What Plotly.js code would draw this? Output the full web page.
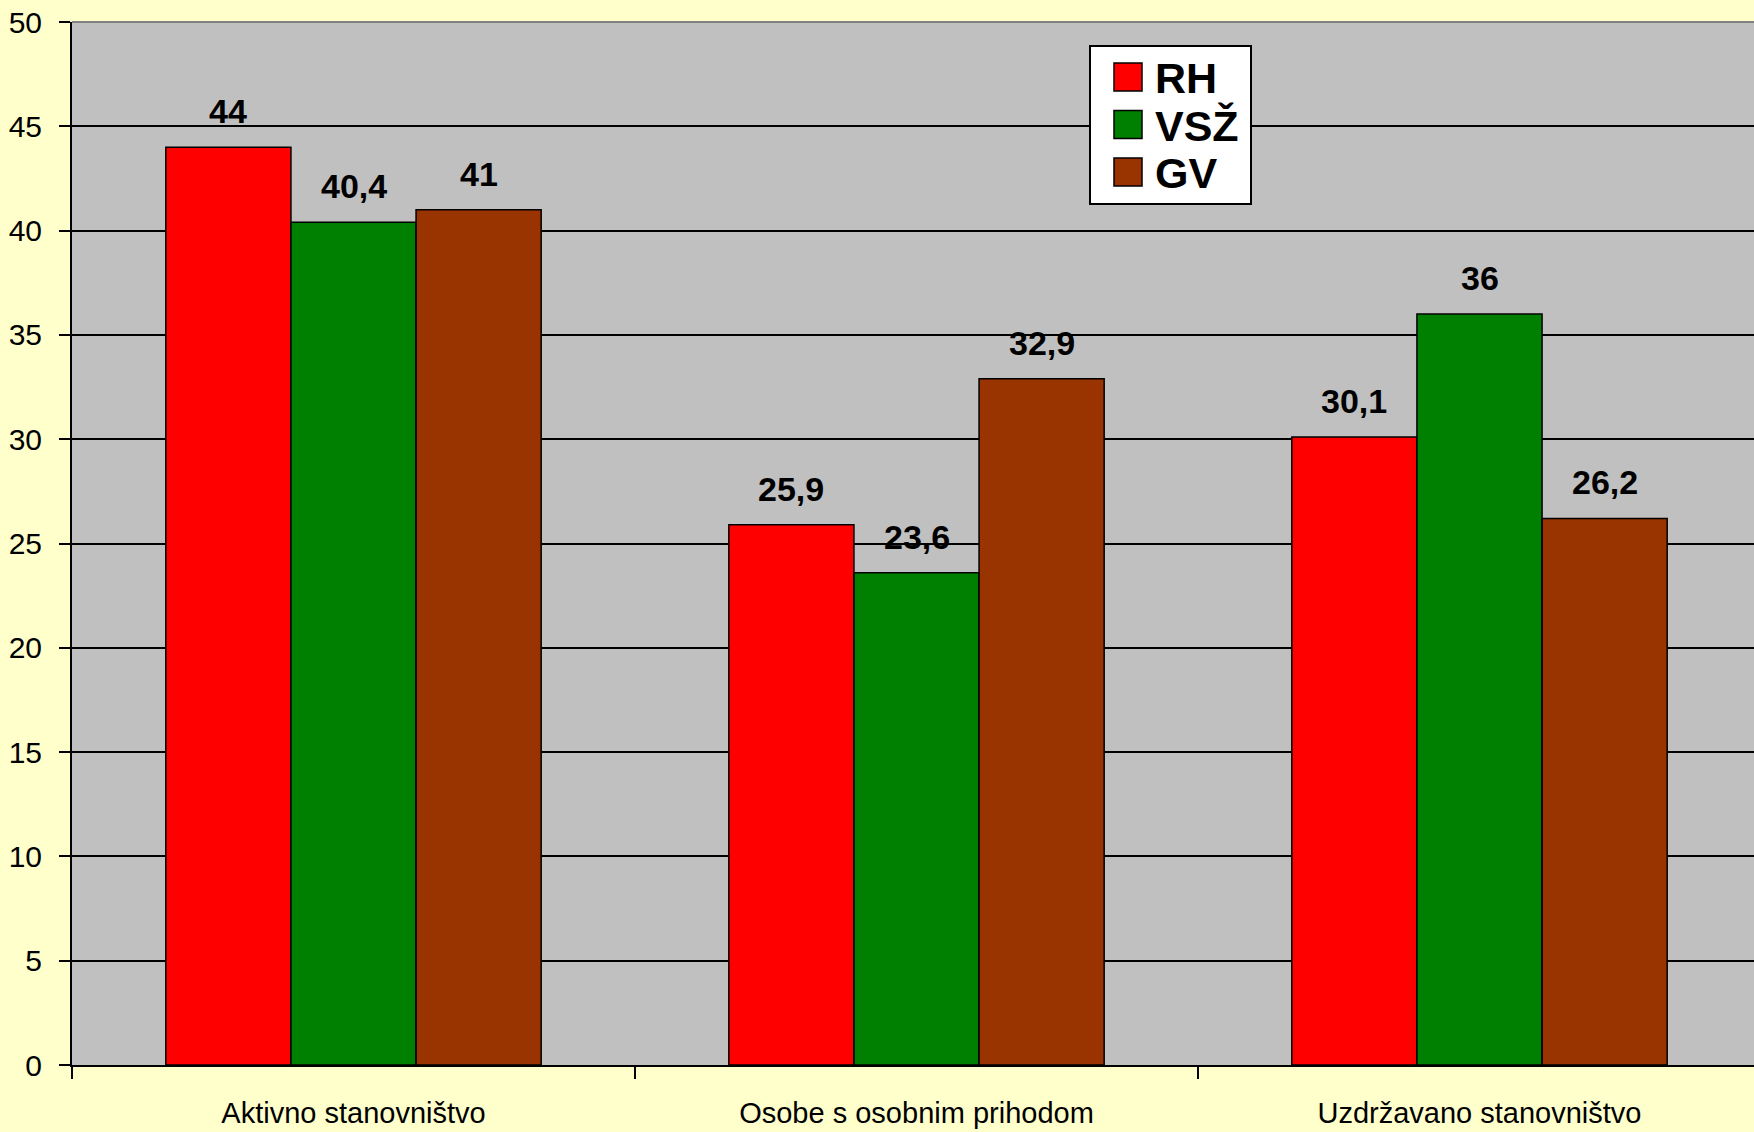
<!DOCTYPE html>
<html>
<head>
<meta charset="utf-8">
<script src="https://cdn.plot.ly/plotly-3.0.1.min.js"></script>
<style>
  html, body { margin: 0; padding: 0; background: #FFFFCC; }
  #chart { width: 1754px; height: 1132px; }
</style>
</head>
<body>
<div id="chart"></div>
<script>
// ---- data ----
const categories = ["Aktivno stanovništvo", "Osobe s osobnim prihodom", "Uzdržavano stanovništvo"];
const seriesNames = ["RH", "VSŽ", "GV"];
const valuesRH  = [44, 25.9, 30.1];
const valuesVSZ = [40.4, 23.6, 36];
const valuesGV  = [41, 32.9, 26.2];
const seriesColors = ["#FF0000", "#008000", "#993300"];
const yTickValues = [0, 5, 10, 15, 20, 25, 30, 35, 40, 45, 50];

const seriesValues = [valuesRH, valuesVSZ, valuesGV];

// ---- geometry (pixels) ----
const W = 1754, H = 1132;
const mL = 72, mT = 22, mR = 0, mB = 67;
const plotW = W - mL - mR, plotH = H - mT - mB;
const groupPx = 563;           // width of one category slot
const bargap = 1 / 3;
const barPx = groupPx * (1 - bargap) / 3;
const fontFam = '"Liberation Sans", Arial, sans-serif';

const fmt = v => String(v).replace('.', ',');

const traces = seriesValues.map((vals, i) => ({
  type: 'bar',
  name: seriesNames[i],
  x: categories,
  y: vals,
  marker: { color: seriesColors[i], line: { color: '#000000', width: 1.5 } },
  hoverinfo: 'x+y+name'
}));

// data labels
const annotations = [];
seriesValues.forEach((vals, i) => {
  vals.forEach((v, j) => {
    annotations.push({
      x: categories[j], y: v, xref: 'x', yref: 'y',
      xshift: (i - 1) * barPx, yshift: 15,
      yanchor: 'bottom', xanchor: 'center',
      text: '<b>' + fmt(v) + '</b>', showarrow: false,
      font: { family: fontFam, size: 34, color: '#000000' }
    });
  });
});

// custom legend
const px2x = px => (px - mL) / plotW;
const px2y = py => (mT + plotH - py) / plotH;
const shapes = [
  // top border of plot area (grey)
  { type: 'line', xref: 'paper', yref: 'paper', x0: 0, x1: 1, y0: 1, y1: 1,
    line: { color: '#808080', width: 2 }, layer: 'above' },
  // legend box
  { type: 'rect', xref: 'paper', yref: 'paper',
    x0: px2x(1090), x1: px2x(1251), y0: px2y(204), y1: px2y(46),
    fillcolor: '#FFFFFF', line: { color: '#000000', width: 2 }, layer: 'above' }
];
const rowCenters = [77, 124.5, 172];
seriesNames.forEach((name, i) => {
  const cy = rowCenters[i];
  shapes.push({ type: 'rect', xref: 'paper', yref: 'paper',
    x0: px2x(1114), x1: px2x(1142), y0: px2y(cy + 14), y1: px2y(cy - 14),
    fillcolor: seriesColors[i], line: { color: '#000000', width: 1.5 }, layer: 'above' });
  annotations.push({
    xref: 'paper', yref: 'paper', x: px2x(1153), y: px2y(cy + 1),
    xanchor: 'left', yanchor: 'middle', showarrow: false,
    text: '<b>' + name + '</b>',
    font: { family: fontFam, size: 43, color: '#000000' }
  });
});

const layout = {
  width: W, height: H,
  margin: { l: mL, r: mR, t: mT, b: mB, pad: 0 },
  paper_bgcolor: '#FFFFCC',
  plot_bgcolor: '#C0C0C0',
  barmode: 'group',
  bargap: bargap,
  bargroupgap: 0,
  showlegend: false,
  font: { family: fontFam, color: '#000000' },
  xaxis: {
    type: 'category',
    range: [-0.5, -0.5 + plotW / groupPx],
    showline: true, linecolor: '#000000', linewidth: 2,
    ticks: 'outside', tickson: 'boundaries', ticklen: 12, tickwidth: 2, tickcolor: '#000000',
    showgrid: false, zeroline: false,
    tickfont: { family: fontFam, size: 29, color: '#000000' },
    ticklabelstandoff: 21,
    fixedrange: true
  },
  yaxis: {
    range: [0, 50],
    tickvals: yTickValues,
    ticktext: yTickValues.map(String),
    showline: true, linecolor: '#000000', linewidth: 2,
    ticks: 'outside', ticklen: 11, tickwidth: 2, tickcolor: '#000000',
    showgrid: true, gridcolor: '#000000', gridwidth: 2,
    zeroline: false,
    tickfont: { family: fontFam, size: 30, color: '#000000' },
    ticklabelstandoff: 11,
    fixedrange: true
  },
  annotations: annotations,
  shapes: shapes
};

Plotly.newPlot('chart', traces, layout, { displayModeBar: false, staticPlot: true });
</script>
</body>
</html>
